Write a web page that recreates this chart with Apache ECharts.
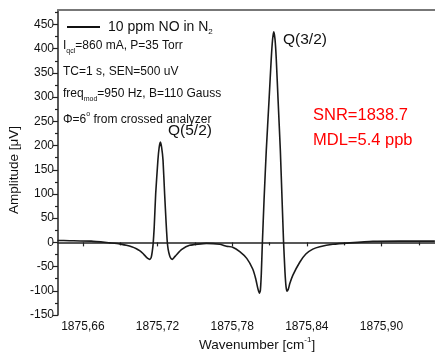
<!DOCTYPE html>
<html>
<head>
<meta charset="utf-8">
<script src="https://cdn.jsdelivr.net/npm/echarts@6/dist/echarts.min.js"></script>
<style>
  html, body { margin: 0; padding: 0; background: #fff; }
  #chart { width: 435px; height: 356px; }
</style>
</head>
<body>
<div id="chart"></div>
<script>
// spectrum
var wavenumber = [
  1875.6396, 1875.6493, 1875.6668, 1875.6815, 1875.6895, 1875.6949, 1875.6992, 1875.7030,
  1875.7056, 1875.7083, 1875.7104, 1875.7121, 1875.7137, 1875.7149, 1875.7158, 1875.7165,
  1875.7173, 1875.7185, 1875.7203, 1875.7213, 1875.7223, 1875.7233, 1875.7244, 1875.7257,
  1875.7269, 1875.7277, 1875.7285, 1875.7298, 1875.7310, 1875.7318, 1875.7334, 1875.7351,
  1875.7392, 1875.7458, 1875.7593, 1875.7700, 1875.7754, 1875.7804, 1875.7861, 1875.7917,
  1875.7965, 1875.7989, 1875.8006, 1875.8018, 1875.8026, 1875.8034, 1875.8042, 1875.8056,
  1875.8074, 1875.8096, 1875.8114, 1875.8125, 1875.8134, 1875.8144, 1875.8154, 1875.8169,
  1875.8187, 1875.8201, 1875.8213, 1875.8224, 1875.8233, 1875.8241, 1875.8251, 1875.8263,
  1875.8287, 1875.8343, 1875.8392, 1875.8448, 1875.8504, 1875.8609, 1875.8746, 1875.8931,
  1875.9148, 1875.9429
]
var amplitude = [
  4, 3.5, 2.5, -1, -3, -6, -9, -13,
  -17, -23, -29, -33, -35, -31, -18, -2,
  30, 100, 170, 196, 207, 196, 170, 100,
  40, 5, -14, -28, -34, -35, -31, -26,
  -15, -6, -2, -4, -8, -10, -19, -33,
  -55, -75, -95, -105, -100, -65, -5, 87,
  190, 293, 380, 420, 435, 420, 380, 293,
  190, 87, 0, -60, -92, -101, -97, -85,
  -68, -41, -24, -14, -9, -4, -1, 2,
  2.5, 2.5
]
var xMajor = [1875.66, 1875.72, 1875.78, 1875.84, 1875.90]
var xMinor = [1875.69, 1875.75, 1875.81, 1875.87, 1875.93]
var yMajor = [-150, -100, -50, 0, 50, 100, 150, 200, 250, 300, 350, 400, 450]
var yMinor = [-125, -75, -25, 25, 75, 125, 175, 225, 275, 325, 375, 425, 475]

var FONT = '"Liberation Sans", Arial, sans-serif'
var points = wavenumber.map(function (w, i) { return [w, amplitude[i]] })

var chart = echarts.init(document.getElementById('chart'))
var axisCommon = { min: 1875.64, max: 1875.943, type: 'value', splitLine: { show: false } }
var yCommon = { min: -150, max: 480, type: 'value', splitLine: { show: false } }
var sub = { fontSize: 7, fill: '#111', fontFamily: FONT, lineHeight: 8, verticalAlign: 'bottom' }
var sup = { fontSize: 7, fill: '#111', fontFamily: FONT, lineHeight: 8, verticalAlign: 'top' }
var main = { fontSize: 12, fill: '#111', fontFamily: FONT, lineHeight: 18 }

var option = {
  backgroundColor: '#fff',
  animation: false,
  textStyle: { fontFamily: FONT },
  grid: { left: 58, right: 0, top: 10, bottom: 41 },
  xAxis: [
    Object.assign({}, axisCommon, {
      position: 'bottom',
      axisLine: { lineStyle: { color: '#222', width: 1.5 } },
      axisTick: { customValues: xMajor, length: 4, lineStyle: { color: '#222', width: 1.2 } },
      axisLabel: {
        customValues: xMajor, color: '#111', fontSize: 12, margin: 6, fontFamily: FONT,
        formatter: function (v) { return v.toFixed(2).replace('.', ',') }
      }
    }),
    Object.assign({}, axisCommon, {
      position: 'bottom',
      axisLine: { show: false },
      axisTick: { customValues: xMinor, length: 3, lineStyle: { color: '#222', width: 1.2 } },
      axisLabel: { show: false }
    }),
    Object.assign({}, axisCommon, {
      position: 'top',
      axisLine: { lineStyle: { color: '#777', width: 2 } },
      axisTick: { show: false },
      axisLabel: { show: false }
    })
  ],
  yAxis: [
    Object.assign({}, yCommon, {
      position: 'left',
      axisLine: { show: true, lineStyle: { color: '#222', width: 1.5 } },
      axisTick: { show: true, customValues: yMajor, length: 5, lineStyle: { color: '#222', width: 1.2 } },
      axisLabel: { customValues: yMajor, color: '#111', fontSize: 12, margin: 4, fontFamily: FONT }
    }),
    Object.assign({}, yCommon, {
      position: 'left',
      axisLine: { show: false },
      axisTick: { show: true, customValues: yMinor, length: 3, lineStyle: { color: '#222', width: 1.2 } },
      axisLabel: { show: false }
    })
  ],
  legend: {
    left: 62, top: 15, itemWidth: 33, itemHeight: 2, itemGap: 0,
    icon: 'rect',
    itemStyle: { color: '#111' },
    data: ['10 ppm NO in N2'],
    formatter: function () { return '{m|10 ppm NO in N}{s|2}' },
    textStyle: {
      padding: [0, 0, 0, 3],
      rich: {
        m: { fontSize: 14, color: '#111', fontFamily: FONT, lineHeight: 18 },
        s: { fontSize: 8, color: '#111', fontFamily: FONT, lineHeight: 8, verticalAlign: 'bottom' }
      }
    }
  },
  series: [{
    name: '10 ppm NO in N2',
    type: 'line',
    xAxisIndex: 0,
    yAxisIndex: 0,
    data: points,
    symbol: 'none',
    smooth: 0.15,
    lineStyle: { color: '#1a1a1a', width: 1.6 }
  }],
  graphic: [
    { type: 'text', left: 63, top: 40, style: {
      text: '{m|I}{s|qcl}{m|=860 mA, P=35 Torr}', rich: { m: main, s: sub } } },
    { type: 'text', left: 63, top: 66, style: { text: 'TC=1 s, SEN=500 uV', fontSize: 12, fill: '#111', fontFamily: FONT } },
    { type: 'text', left: 63, top: 88, style: {
      text: '{m|freq}{s|mod}{m|=950 Hz, B=110 Gauss}', rich: { m: main, s: sub } } },
    { type: 'text', left: 63, top: 111, style: {
      text: '{m|\u03A6=6}{p|o}{m| from crossed analyzer}', rich: { m: main, p: sup } } },
    { type: 'text', left: 168, top: 123, style: { text: 'Q(5/2)', fontSize: 15.5, fill: '#111', fontFamily: FONT } },
    { type: 'text', left: 283, top: 32, style: { text: 'Q(3/2)', fontSize: 15.5, fill: '#111', fontFamily: FONT } },
    { type: 'text', left: 313, top: 107, style: { text: 'SNR=1838.7', fontSize: 16.5, fill: '#ff0000', fontFamily: FONT } },
    { type: 'text', left: 313, top: 132, style: { text: 'MDL=5.4 ppb', fontSize: 16.5, fill: '#ff0000', fontFamily: FONT } },
    { type: 'text', left: 199, top: 336, style: {
      text: '{m|Wavenumber [cm}{p|-1}{m|]}',
      rich: {
        m: { fontSize: 13.5, fill: '#111', fontFamily: FONT, lineHeight: 18 },
        p: { fontSize: 8, fill: '#111', fontFamily: FONT, lineHeight: 8, verticalAlign: 'top' }
      } } },
    { type: 'text', x: 14, y: 170, rotation: Math.PI / 2, style: {
      text: 'Amplitude [\u03BCV]', fontSize: 13.5, fill: '#111', fontFamily: FONT,
      align: 'center', verticalAlign: 'middle' } }
  ]
}
chart.setOption(option)
</script>
</body>
</html>
